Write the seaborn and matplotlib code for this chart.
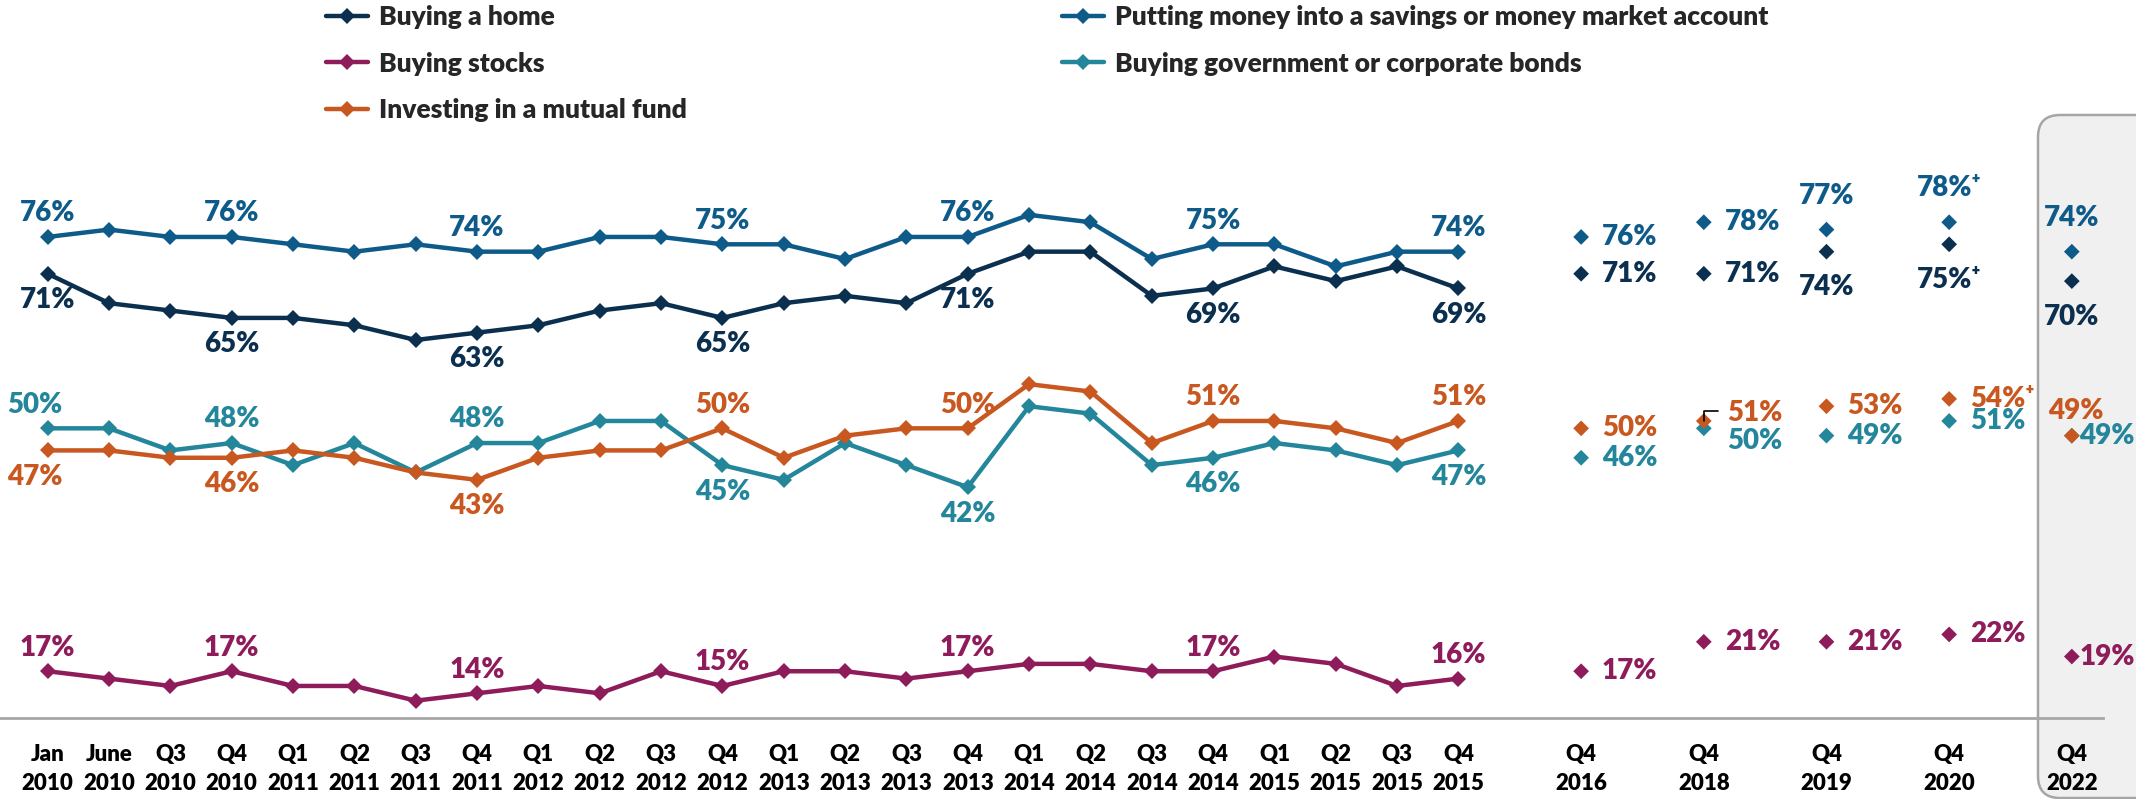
import pandas as pd
import matplotlib.pyplot as plt
import seaborn as sns
from matplotlib.lines import Line2D
from matplotlib.patches import FancyBboxPatch
from matplotlib.transforms import IdentityTransform

# Set plot style
sns.set_style("white")
plt.rcParams['font.family'] = ['Lato', 'DejaVu Sans']
plt.rcParams['font.weight'] = 'bold'

# -----------------------------
# Data
# -----------------------------
trend_periods = ['Jan\n2010', 'June\n2010', 'Q3\n2010', 'Q4\n2010',
                 'Q1\n2011', 'Q2\n2011', 'Q3\n2011', 'Q4\n2011',
                 'Q1\n2012', 'Q2\n2012', 'Q3\n2012', 'Q4\n2012',
                 'Q1\n2013', 'Q2\n2013', 'Q3\n2013', 'Q4\n2013',
                 'Q1\n2014', 'Q2\n2014', 'Q3\n2014', 'Q4\n2014',
                 'Q1\n2015', 'Q2\n2015', 'Q3\n2015', 'Q4\n2015']
later_periods = ['Q4\n2016', 'Q4\n2018', 'Q4\n2019', 'Q4\n2020', 'Q4\n2022']

series_names = ['Buying a home',
                'Putting money into a savings or money market account',
                'Buying stocks',
                'Buying government or corporate bonds',
                'Investing in a mutual fund']
series_colors = ['#0B2F4E', '#0E5B8A', '#8E1B5A', '#23869A', '#C8581F']

home_trend = [71, 67, 66, 65, 65, 64, 62, 63, 64, 66, 67, 65, 67, 68, 67, 71, 74, 74, 68, 69, 72, 70, 72, 69]
savings_trend = [76, 77, 76, 76, 75, 74, 75, 74, 74, 76, 76, 75, 75, 73, 76, 76, 79, 78, 73, 75, 75, 72, 74, 74]
stocks_trend = [17, 16, 15, 17, 15, 15, 13, 14, 15, 14, 17, 15, 17, 17, 16, 17, 18, 18, 17, 17, 19, 18, 15, 16]
bonds_trend = [50, 50, 47, 48, 45, 48, 44, 48, 48, 51, 51, 45, 43, 48, 45, 42, 53, 52, 45, 46, 48, 47, 45, 47]
mutual_trend = [47, 47, 46, 46, 47, 46, 44, 43, 46, 47, 47, 50, 46, 49, 50, 50, 56, 55, 48, 51, 51, 50, 48, 51]

home_later = [71, 71, 74, 75, 70]
savings_later = [76, 78, 77, 78, 74]
stocks_later = [17, 21, 21, 22, 19]
bonds_later = [46, 50, 49, 51, 49]
mutual_later = [50, 51, 53, 54, 49]

# which trend points get a value label, and where the label sits
trend_label_idx = [0, 3, 7, 11, 15, 19, 23]
home_trend_side = ['below'] * 7
savings_trend_side = ['above'] * 7
stocks_trend_side = ['above'] * 7
bonds_trend_side = ['above_l', 'above', 'above', 'below', 'below', 'below', 'below']
mutual_trend_side = ['below_l', 'below', 'below', 'above', 'above', 'above', 'above']

home_later_side = ['right', 'right', 'below_far', 'below_far', 'below_far']
savings_later_side = ['right', 'right', 'above_far', 'above_far', 'above_far']
stocks_later_side = ['right', 'right', 'right', 'right', 'right_tight']
bonds_later_side = ['right', 'right_down', 'right', 'right', 'right_tight']
mutual_later_side = ['right', 'right_up', 'right', 'right', 'above_near']

# Q4 2020 values flagged with a "+"
plus_2020 = ['Buying a home', 'Putting money into a savings or money market account',
             'Investing in a mutual fund']

# -----------------------------
# Build tables
# -----------------------------
trend_vals = [home_trend, savings_trend, stocks_trend, bonds_trend, mutual_trend]
later_vals = [home_later, savings_later, stocks_later, bonds_later, mutual_later]
trend_sides = [home_trend_side, savings_trend_side, stocks_trend_side, bonds_trend_side, mutual_trend_side]
later_sides = [home_later_side, savings_later_side, stocks_later_side, bonds_later_side, mutual_later_side]

trend_pos = list(range(len(trend_periods)))
later_pos = [len(trend_periods) + 1 + 2 * i for i in range(len(later_periods))]

trend_df = pd.concat([pd.DataFrame({'series': name, 'pos': trend_pos, 'value': vals})
                      for name, vals in zip(series_names, trend_vals)])
later_df = pd.concat([pd.DataFrame({'series': name, 'pos': later_pos, 'value': vals})
                      for name, vals in zip(series_names, later_vals)])

palette = dict(zip(series_names, series_colors))
draw_order = [series_names[1], series_names[0], series_names[2], series_names[3], series_names[4]]

# -----------------------------
# Plot
# -----------------------------
fig = plt.figure(figsize=(21.36, 7.99), dpi=100)

# grey box behind the latest wave
box = FancyBboxPatch((2038, 1), 160, 683, boxstyle='round,pad=0,rounding_size=22',
                     transform=IdentityTransform(), facecolor='#F0F0F0',
                     edgecolor='#A6A6A6', linewidth=1.8, zorder=-5)
fig.patches.append(box)

ax = fig.add_axes([0.0, 0.1014, 0.9846, 0.7734])
ax.patch.set_alpha(0)
ax.set_zorder(1)

MS = 8
sns.lineplot(data=trend_df, x='pos', y='value', hue='series', hue_order=draw_order,
             palette=palette, marker='D', markersize=MS, markeredgewidth=0,
             linewidth=3.2, legend=False, ax=ax)
sns.scatterplot(data=later_df, x='pos', y='value', hue='series', hue_order=draw_order,
                palette=palette, marker='D', s=MS ** 2, linewidth=0, legend=False, ax=ax,
                zorder=3)

offsets = {
    'above': (0, 17, 'center'), 'below': (0, -19, 'center'),
    'above_l': (-9, 17, 'center'), 'below_l': (-9, -19, 'center'),
    'above_far': (0, 24.5, 'center'), 'below_far': (0, -25.5, 'center'),
    'above_near': (3, 17.5, 'center'),
    'right': (15, 0, 'left'), 'right_up': (16.5, 6, 'left'),
    'right_down': (16.5, -9, 'left'), 'right_tight': (5.5, 0, 'left'),
}
LABEL_SIZE = 20
WEIGHT = 'heavy'

for name, vals, sides in zip(series_names, trend_vals, trend_sides):
    for i, side in zip(trend_label_idx, sides):
        dx, dy, ha = offsets[side]
        ax.annotate(f"{vals[i]}%", xy=(trend_pos[i], vals[i]), xytext=(dx, dy),
                    textcoords='offset points', ha=ha, va='center',
                    color=palette[name], fontsize=LABEL_SIZE, fontweight=WEIGHT)

for name, vals, sides in zip(series_names, later_vals, later_sides):
    for j, side in enumerate(sides):
        dx, dy, ha = offsets[side]
        text = f"{vals[j]}%"
        if j == 3 and name in plus_2020:
            text += '⁺'
        ax.annotate(text, xy=(later_pos[j], vals[j]), xytext=(dx, dy),
                    textcoords='offset points', ha=ha, va='center',
                    color=palette[name], fontsize=LABEL_SIZE, fontweight=WEIGHT)

# small leader for the crowded Q4 2018 mutual fund label
ax.annotate('', xy=(later_pos[1], mutual_later[1]), xytext=(10, 7.5),
            textcoords='offset points',
            arrowprops=dict(arrowstyle='-', color='black', lw=1.2, shrinkA=0, shrinkB=0,
                            connectionstyle='angle,angleA=0,angleB=90,rad=0'))

# axes
tick_labels = trend_periods[:]
for p in later_periods:
    tick_labels += ['', p]
ax.set_xticks(range(len(tick_labels)))
ax.set_xticklabels(tick_labels, fontsize=16, fontweight=WEIGHT, color='black',
                   linespacing=1.5)
ax.tick_params(axis='x', direction='in', length=6, width=1, color='#A6A6A6', pad=18.5)
ax.set_xlim(-0.778, 33.51)
ax.set_ylim(10.65, 94.6)
ax.set_yticks([])
ax.set_xlabel('')
ax.set_ylabel('')
for s in ['left', 'right', 'top']:
    ax.spines[s].set_visible(False)
ax.spines['bottom'].set_color('#A6A6A6')
ax.spines['bottom'].set_linewidth(2)

# legend in two columns
handles = [Line2D([], [], color=palette[n], marker='D', markersize=MS,
                  markeredgewidth=0, linewidth=3.2) for n in series_names]
leg_kw = dict(loc='upper left', frameon=False, handlelength=1.6,
              prop={'size': 19, 'weight': WEIGHT},
              handletextpad=0.4, labelspacing=0.86, borderpad=0, borderaxespad=0)
leg1 = fig.legend([handles[0], handles[2], handles[4]],
                  [series_names[0], series_names[2], series_names[4]],
                  bbox_to_anchor=(326 / 2136, 1 - 5 / 799), **leg_kw)
leg2 = fig.legend([handles[1], handles[3]], [series_names[1], series_names[3]],
                  bbox_to_anchor=(1062 / 2136, 1 - 5 / 799), **leg_kw)

fig.savefig('out.png', dpi=100)
